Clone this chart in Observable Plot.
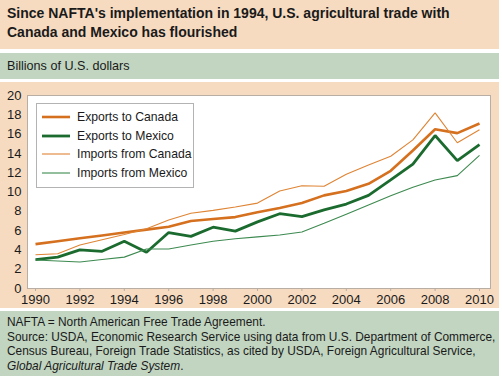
<!DOCTYPE html>
<html>
<head>
<meta charset="utf-8">
<script src="https://cdn.jsdelivr.net/npm/d3@7"></script>
<script src="https://cdn.jsdelivr.net/npm/@observablehq/plot@0.6"></script>
<style>
  html, body { margin: 0; padding: 0; background: #ffffff; }
  body { width: 502px; height: 376px; overflow: hidden; font-family: "Liberation Sans", Arial, sans-serif; color: #1a1a1a; }
  .band { width: 499px; box-sizing: border-box; }
  .peach { background: #f6dbc1; }
  .green { background: #c1d5c1; }
  #title { height: 49px; padding: 4px 7px 0 7px; font-weight: bold; font-size: 14px; line-height: 18.5px; }
  #unit { margin-top: 4px; height: 26px; line-height: 26px; padding-left: 7px; font-size: 12.6px; }
  #chartwrap { margin-top: 3px; height: 226px; position: relative; }
  #notes { margin-top: 3px; height: 65px; padding: 4px 0 0 7px; font-size: 11.9px; line-height: 14.6px; white-space: nowrap; overflow: hidden; }
  #legend { position: absolute; left: 36px; top: 21px; width: 158px; height: 85px; box-sizing: border-box;
            border: 1px solid #b3b3b3; background: #ffffff; font-size: 12.2px; }
  .lg { position: absolute; left: 5px; height: 18px; display: flex; align-items: center; }
  .lg svg { margin-right: 7px; }
</style>
</head>
<body>
<div id="title" class="band peach">Since NAFTA's implementation in 1994, U.S. agricultural trade with<br>Canada and Mexico has flourished</div>
<div id="unit" class="band green">Billions of U.S. dollars</div>
<div id="chartwrap" class="band peach"><div id="legend"></div></div>
<div id="notes" class="band green">NAFTA = North American Free Trade Agreement.<br>Source: USDA, Economic Research Service using data from U.S. Department of Commerce,<br>Census Bureau, Foreign Trade Statistics, as cited by USDA, Foreign Agricultural Service,<br><i>Global Agricultural Trade System</i>.</div>
<script>
const years = [1990, 1991, 1992, 1993, 1994, 1995, 1996, 1997, 1998, 1999, 2000,
               2001, 2002, 2003, 2004, 2005, 2006, 2007, 2008, 2009, 2010];
const exportsCanada = [4.6, 4.9, 5.2, 5.5, 5.8, 6.1, 6.4, 7.0, 7.2, 7.4, 7.9,
                       8.35, 8.85, 9.65, 10.1, 10.85, 12.2, 14.3, 16.5, 16.1, 17.1];
const exportsMexico = [3.0, 3.25, 4.0, 3.85, 4.9, 3.75, 5.8, 5.4, 6.35, 5.95, 6.9,
                       7.75, 7.45, 8.15, 8.75, 9.65, 11.25, 12.9, 15.85, 13.25, 14.9];
const importsCanada = [3.5, 3.6, 4.5, 5.05, 5.6, 6.2, 7.1, 7.8, 8.1, 8.45, 8.85,
                       10.1, 10.65, 10.6, 11.85, 12.8, 13.7, 15.4, 18.2, 15.1, 16.45];
const importsMexico = [2.95, 2.85, 2.75, 3.0, 3.25, 4.1, 4.1, 4.5, 4.9, 5.15, 5.35,
                       5.55, 5.85, 6.75, 7.7, 8.65, 9.6, 10.5, 11.25, 11.7, 13.8];
const seriesNames = ["Exports to Canada", "Exports to Mexico", "Imports from Canada", "Imports from Mexico"];
const xTickLabels = [1990, 1992, 1994, 1996, 1998, 2000, 2002, 2004, 2006, 2008, 2010];
const yTickLabels = [0, 2, 4, 6, 8, 10, 12, 14, 16, 18, 20];

const ORANGE = "#d5701f";
const GREEN = "#1b6b2f";
const seriesValues = [exportsCanada, exportsMexico, importsCanada, importsMexico];
const seriesStyle = [
  {stroke: ORANGE, width: 2.6},
  {stroke: GREEN, width: 2.8},
  {stroke: "#df8434", width: 1.1},
  {stroke: "#3d8a50", width: 1.1}
];

const rows = [];
seriesNames.forEach((name, i) => {
  years.forEach((yr, j) => rows.push({series: name, year: yr, value: seriesValues[i][j]}));
});

const lineMarks = seriesNames.map((name, i) =>
  Plot.line(rows.filter(r => r.series === name), {
    x: "year", y: "value",
    stroke: seriesStyle[i].stroke, strokeWidth: seriesStyle[i].width,
    strokeLinejoin: "miter", strokeLinecap: "butt"
  })
);

const chart = Plot.plot({
  width: 499,
  height: 226,
  marginLeft: 27,
  marginRight: 9,
  marginTop: 13,
  marginBottom: 20,
  style: {background: "transparent", fontFamily: "'Liberation Sans', Arial, sans-serif", fontSize: "13px", color: "#1a1a1a"},
  x: {domain: [1990, 2010], insetLeft: 8, insetRight: 11, label: null},
  y: {domain: [0, 20], label: null},
  marks: [
    Plot.frame({fill: "#ffffff", stroke: "#b8aea4"}),
    Plot.axisX({ticks: xTickLabels, tickFormat: d => String(d), tickSize: 3, tickPadding: 3, stroke: "#b8aea4", fontSize: 13, label: null}),
    Plot.axisY({ticks: yTickLabels, tickSize: 0, tickPadding: 6, fontSize: 13, label: null}),
    ...lineMarks
  ]
});
document.getElementById("chartwrap").insertBefore(chart, document.getElementById("legend"));
chart.style.display = "block";

const legend = document.getElementById("legend");
seriesNames.forEach((name, i) => {
  const item = document.createElement("div");
  item.className = "lg";
  item.style.top = (4 + i * 18.7) + "px";
  item.innerHTML = `<svg width="28" height="6"><line x1="0" x2="28" y1="3" y2="3" stroke="${seriesStyle[i].stroke}" stroke-width="${seriesStyle[i].width}"/></svg><span>${name}</span>`;
  legend.appendChild(item);
});
</script>
</body>
</html>
